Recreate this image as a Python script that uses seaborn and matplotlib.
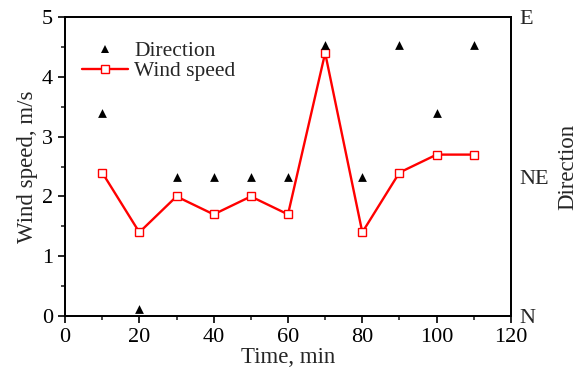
import matplotlib
matplotlib.use('Agg')
import matplotlib.pyplot as plt
import seaborn as sns
import pandas as pd
from matplotlib.ticker import MultipleLocator
from matplotlib.lines import Line2D

# data
time_min = [10, 20, 30, 40, 50, 60, 70, 80, 90, 100, 110]
wind_speed = [2.4, 1.4, 2.0, 1.7, 2.0, 1.7, 4.4, 1.4, 2.4, 2.7, 2.7]
direction = [3.4, 0.12, 2.32, 2.32, 2.32, 2.32, 4.53, 2.32, 4.53, 3.4, 4.53]
dir_ticks = [0, 2.33, 5]
dir_labels = ['N', 'NE', 'E']

df = pd.DataFrame({'time': time_min, 'speed': wind_speed, 'dir': direction})

sns.set_style('ticks')
plt.rcParams['font.family'] = ['Liberation Serif', 'DejaVu Serif']
plt.rcParams['font.size'] = 16

fig = plt.figure(figsize=(5.78, 3.72), dpi=100)
ax = fig.add_axes([0.1125, 0.1505, 0.7715, 0.8035])

sns.lineplot(data=df, x='time', y='speed', ax=ax, color='red', lw=1.7,
             marker='s', markersize=5.5, markerfacecolor='white',
             markeredgecolor='red', markeredgewidth=1.0)
ax.set_xlim(0, 120)
ax.set_ylim(0, 5)
ax.xaxis.set_major_locator(MultipleLocator(20))
ax.xaxis.set_minor_locator(MultipleLocator(10))
ax.yaxis.set_major_locator(MultipleLocator(1))
ax.yaxis.set_minor_locator(MultipleLocator(0.5))
ax.tick_params(which='major', direction='out', length=5, width=1.2, labelsize=16, colors='black')
ax.tick_params(which='minor', direction='out', length=3, width=1.2)
ax.set_xlabel('Time, min', fontsize=16.5, labelpad=0)
ax.set_ylabel('Wind speed, m/s', fontsize=16.5, labelpad=3)

ax2 = ax.twinx()
sns.scatterplot(data=df, x='time', y='dir', ax=ax2, marker='^', color='black',
                s=40, edgecolor='black', linewidth=0)
ax2.set_ylim(0, 5)
ax2.set_yticks(dir_ticks)
ax2.set_yticklabels(dir_labels)
ax2.tick_params(axis='y', length=0, labelsize=16, pad=6)
ax2.set_ylabel('Direction', fontsize=16.5, labelpad=6)

for a in (ax, ax2):
    for s in a.spines.values():
        s.set_visible(True)
        s.set_linewidth(1.3)
        s.set_color('black')

handles = [
    Line2D([], [], ls='none', marker='^', color='black', markersize=6.3,
           markeredgewidth=0),
    Line2D([], [], color='red', lw=1.7, marker='s', markersize=5.5,
           markerfacecolor='white', markeredgecolor='red'),
]
ax2.legend(handles, ['Direction', 'Wind speed'], loc='upper left',
           bbox_to_anchor=(0.005, 0.97), frameon=False, fontsize=15.5,
           handlelength=2.1, handletextpad=0.3, labelspacing=0.0,
           borderaxespad=0.3, numpoints=1)

fig.savefig('out.png', dpi=100)
